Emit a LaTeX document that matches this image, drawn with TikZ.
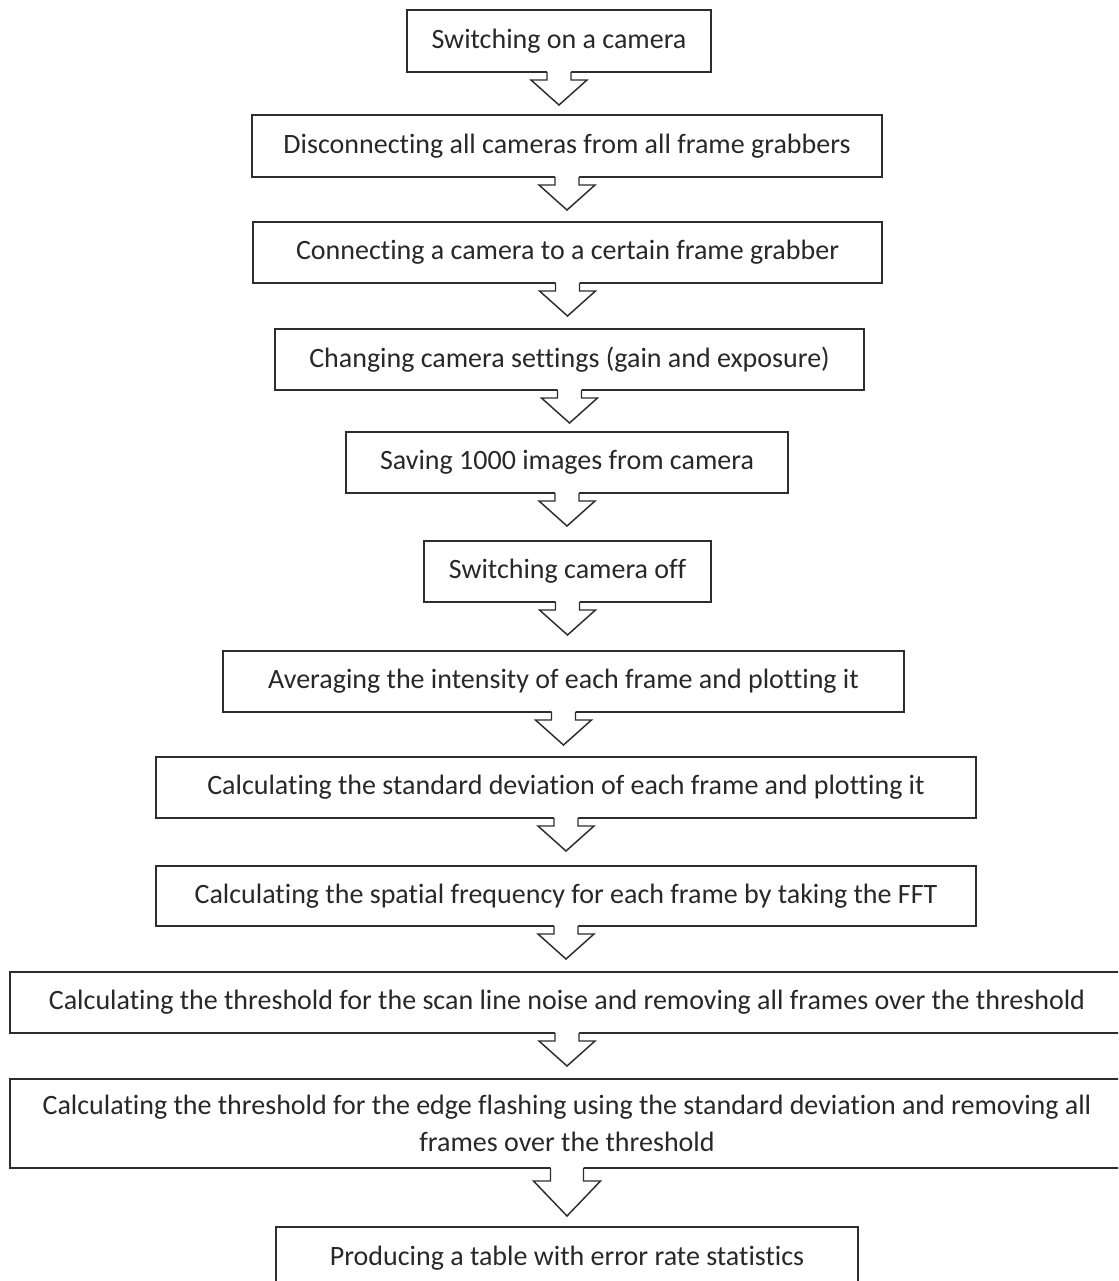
\documentclass[tikz,border=0pt]{standalone}
\usepackage{fontspec}
\setmainfont[Ligatures=NoCommon]{Carlito}
\usetikzlibrary{calc}
\definecolor{BoxLine}{RGB}{45,45,45}
\definecolor{TextGrey}{RGB}{40,40,40}
\tikzset{
  stepbox/.style 2 args={draw=BoxLine,fill=white,line width=1.3pt,outer sep=0pt,
    inner sep=0pt,align=center,text=TextGrey,font=\fontsize{21}{27.75}\selectfont,
    minimum width=#1*0.75pt,minimum height=#2*0.75pt},
  flowarrow/.style={draw=BoxLine,line width=1.1pt,line join=miter}
}
% block arrow below a box: node, stem half width, stem length, head half width, length
\newcommand{\stepdown}[5]{%
  \fill[white] ($(#1.south)+(-#2,-1)$) -- ++(0,#3+1) -- ++(#2-#4,0) -- ++(#4,#5-#3)
    -- ++(#4,#3-#5) -- ++(#2-#4,0) -- ++(0,-#3-1) -- cycle;
  \draw[flowarrow] ($(#1.south)+(-#2,0)$) -- ++(0,#3) -- ++(#2-#4,0) -- ++(#4,#5-#3)
    -- ++(#4,#3-#5) -- ++(#2-#4,0) -- ++(0,-#3);
}

\begin{document}
\begin{tikzpicture}[x=0.75pt,y=-0.75pt]
  \clip (0,0) rectangle (1118,1281);
  \fill[white] (0,0) rectangle (1118,1281);
  % steps
  \node[stepbox={304}{62}] (s1) at (559,41) {Switching on a camera};
  \node[stepbox={630}{62}] (s2) at (567,146) {Disconnecting all cameras from all frame grabbers};
  \node[stepbox={629}{61}] (s3) at (567.5,252.5) {Connecting a camera to a certain frame grabber};
  \node[stepbox={589}{61}] (s4) at (569.5,359.5) {Changing camera settings (gain and exposure)};
  \node[stepbox={442}{61}] (s5) at (567,462.5) {Saving 1000 images from camera};
  \node[stepbox={287}{61}] (s6) at (567.5,571.5) {Switching camera off};
  \node[stepbox={681}{61}] (s7) at (563.5,681.5) {Averaging the intensity of each frame and plotting it};
  \node[stepbox={820}{61}] (s8) at (566,787.5) {Calculating the standard deviation of each frame and plotting it};
  \node[stepbox={820}{60}] (s9) at (566,896) {Calculating the spatial frequency for each frame by taking the FFT};
  \node[stepbox={1114}{61}] (s10) at (567,1002.5) {Calculating the threshold for the scan line noise and removing all frames over the threshold};
  \node[stepbox={1114}{89}] (s11) at (567,1123.5) {Calculating the threshold for the edge flashing using the standard deviation and removing all\\frames over the threshold};
  \node[stepbox={582}{62}] (s12) at (567,1258) {Producing a table with error rate statistics};
  % arrows
  \foreach \s in {s1,s2,s3,s4,s5,s6,s7,s8,s9,s10}{
    \stepdown{\s}{12}{8}{28}{33}
  }
  \stepdown{s11}{16.5}{13}{33.5}{48}
\end{tikzpicture}
\end{document}
